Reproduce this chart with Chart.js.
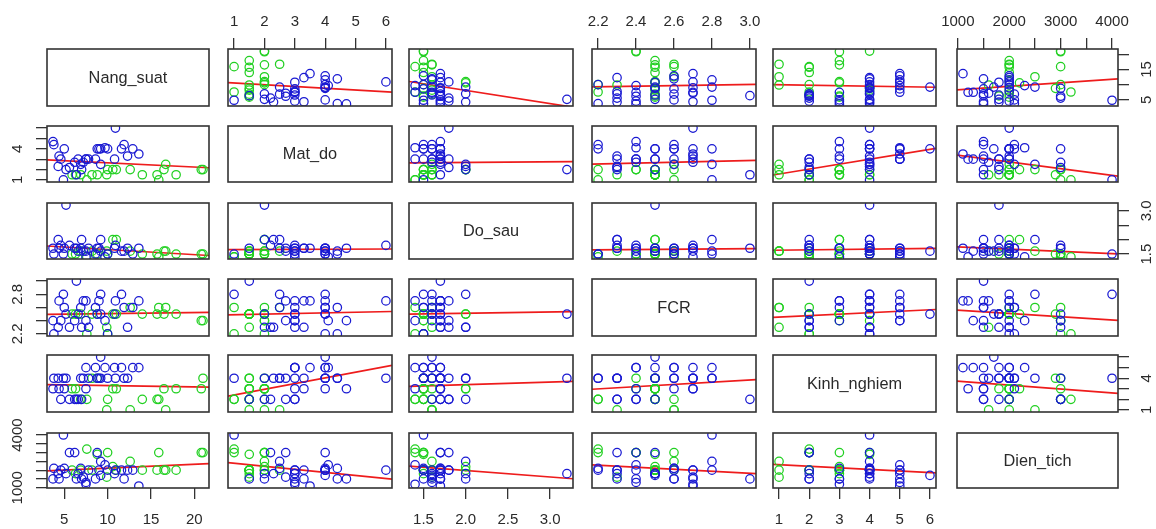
<!DOCTYPE html>
<html><head><meta charset="utf-8">
<script src="https://cdn.jsdelivr.net/npm/chart.js@4.4.1/dist/chart.umd.min.js"></script>
<style>
html,body{margin:0;padding:0;background:#fff;width:1156px;height:529px;overflow:hidden;position:relative}
canvas{position:absolute}
</style></head><body>
<script>
// ---------------- DATA ----------------
const varNames = ['Nang_suat','Mat_do','Do_sau','FCR','Kinh_nghiem','Dien_tich'];
// nhom: 1 = green group, 2 = blue group
const nhom = [1,1,1,1,1,1,1,1,1,1,1,1,1,1,1,1,1,1,1,
              2,2,2,2,2,2,2,2,2,2,2,2,2,2,2,2,2,2,2,2,2,2,2,2,2,2,2,2,2,2,2,2];
const nangSuat = [21.0,20.8,17.9,16.7,16.5,15.9,15.7,14.0,12.6,11.0,10.6,10.0,9.9,8.8,8.2,7.6,6.9,6.3,5.9,
  9.2,13.6,12.9,11.6,10.8,9.7,8.6,7.5,3.8,4.3,4.9,5.2,6.9,7.2,7.8,8.8,9.0,9.2,10.0,10.9,11.9,12.3,3.7,4.4,5.0,7.5,4.6,5.6,6.2,6.4,6.6,7.0];
const matDo = [2,2,1.5,2.5,2,1,1.5,1.5,2,2,2,2,1.5,1.5,1.5,1,1.5,1.5,1.5,
  4,3.5,4,4,3,4.1,3,3,4.4,2.3,1,2,2.5,2.7,3,4,4,2.5,4,6,4.4,3.3,4.7,3.3,4,3,3,2.2,2.7,1.5,3,2];
const doSau = [1.5,1.5,1.5,1.6,1.6,1.4,1.5,1.5,1.6,2.0,2.0,1.5,1.6,1.5,1.6,1.4,1.6,1.5,1.5,
  1.6,1.7,1.5,1.6,1.7,1.4,1.5,1.6,1.5,2.0,1.5,3.2,1.7,1.6,1.7,1.7,1.7,2.0,1.5,1.8,1.6,1.7,1.7,1.7,1.7,1.4,1.8,1.8,1.7,1.7,1.6,2.0];
const fcr = [2.4,2.4,2.5,2.6,2.5,2.6,2.5,2.5,2.6,2.5,2.5,2.2,2.3,2.5,2.5,2.2,2.5,2.5,2.5,
  2.5,2.7,2.6,2.8,2.5,2.4,2.6,2.4,2.2,2.3,2.8,2.5,2.6,2.7,2.3,2.5,2.7,2.8,2.2,2.7,2.6,2.3,2.4,2.7,2.6,2.7,2.4,2.3,2.4,3.0,2.5,2.3];
const kinhNghiem = [4,3,3,1,3,2,2,2,1,3,3,2,1,4,4,2,2,3,3,
  6,5,5,5,5,5,5,5,4,4,4,4,4,4,4,4,4,4,4,4,4,4,3,3,3,3,2,2,2,2,2,2];
const dienTich = [3000,3000,2000,2000,2000,3000,2000,2000,2500,2000,2200,3000,1600,2900,2000,3200,2000,1800,2000,
  1700,1100,2000,2000,1800,2300,1500,1300,2100,1800,4000,1800,2100,1600,2000,3000,2000,2500,2000,2000,1500,2000,1500,1500,2100,1200,2000,3000,3000,1500,1800,1500];

// tick values and tick labels (horizontal axes / vertical axes)
const tickNangSuat = [5,10,15,20];
const labHNangSuat = ['5','10','15','20'];
const labVNangSuat = ['5','','15',''];
const tickMatDo = [1,2,3,4,5,6];
const labHMatDo = ['1','2','3','4','5','6'];
const labVMatDo = ['1','','','4','',''];
const tickDoSau = [1.5,2.0,2.5,3.0];
const labHDoSau = ['1.5','2.0','2.5','3.0'];
const labVDoSau = ['1.5','','','3.0'];
const tickFCR = [2.2,2.4,2.6,2.8,3.0];
const labHFCR = ['2.2','2.4','2.6','2.8','3.0'];
const labVFCR = ['2.2','','','2.8',''];
const tickKinhNghiem = [1,2,3,4,5,6];
const labHKinhNghiem = ['1','2','3','4','5','6'];
const labVKinhNghiem = ['1','','','4','',''];
const tickDienTich = [1000,1500,2000,2500,3000,3500,4000];
const labHDienTich = ['1000','','2000','','3000','','4000'];
const labVDienTich = ['1000','','','','','','4000'];

// ---------------- LAYOUT / STYLE ----------------
const cols = [nangSuat, matDo, doSau, fcr, kinhNghiem, dienTich];
const tickVals = [tickNangSuat, tickMatDo, tickDoSau, tickFCR, tickKinhNghiem, tickDienTich];
const tickLabH = [labHNangSuat, labHMatDo, labHDoSau, labHFCR, labHKinhNghiem, labHDienTich];
const tickLabV = [labVNangSuat, labVMatDo, labVDoSau, labVFCR, labVKinhNghiem, labVDienTich];

const colL = [47,228,409,592,773,957], colR = [209,392,573,756,936,1118];
const rowT = [49,126,203,279,355,433], rowB = [106,182,259,336,412,488];
const P = 46;
const FONT = '"Liberation Sans", Arial, sans-serif';
const TXT = '#2a2a2a', AX = '#333333';
const BLUE = '#1a1ad2', GREEN = '#22d022', RED = '#ee1c1c';
const TICKLEN = 11, LABDIST = 29;

const mctx = document.createElement('canvas').getContext('2d');
mctx.font = '15px ' + FONT;
const measure = t => mctx.measureText(t).width;

function range(v){ const mn=Math.min(...v), mx=Math.max(...v), d=(mx-mn)*0.04; return [mn-d, mx+d]; }
function zeroPad(s){ s.paddingLeft=0; s.paddingRight=0; s.paddingTop=0; s.paddingBottom=0; }

function xScale(c, show, pos){
  const [mn,mx] = range(cols[c]);
  return {
    type:'linear', min:mn, max:mx, bounds:'data', display:show, position:pos,
    afterBuildTicks: s => { s.ticks = tickVals[c].map(v=>({value:v})); },
    afterFit: s => { if(show) s.height = P; zeroPad(s); },
    ticks:{ autoSkip:false, minRotation:0, maxRotation:0, padding: pos==='top'?7:12,
      font:{family:FONT,size:15}, color:TXT, callback:(v,i)=>tickLabH[c][i] },
    grid:{ display:true, drawOnChartArea:false, drawTicks:true, tickLength:TICKLEN, color:AX, lineWidth:1.3 },
    border:{ display:false }
  };
}
function yScale(r, show, pos){
  const [mn,mx] = range(cols[r]);
  const widest = Math.max(...tickLabV[r].map(measure));
  return {
    type:'linear', min:mn, max:mx, bounds:'data', display:show, position:pos,
    afterBuildTicks: s => { s.ticks = tickVals[r].map(v=>({value:v})); },
    afterFit: s => { if(show) s.width = P; zeroPad(s); },
    ticks:{ autoSkip:false, minRotation:90, maxRotation:90, crossAlign:'center',
      padding: LABDIST - TICKLEN - widest/2,
      font:{family:FONT,size:15}, color:TXT, callback:(v,i)=>tickLabV[r][i] },
    grid:{ display:true, drawOnChartArea:false, drawTicks:true, tickLength:TICKLEN, color:AX, lineWidth:1.3 },
    border:{ display:false }
  };
}

function fitLine(xs, ys){
  const n=xs.length; let mx=0,my=0; for(let i=0;i<n;i++){mx+=xs[i];my+=ys[i];} mx/=n; my/=n;
  let sxy=0,sxx=0; for(let i=0;i<n;i++){sxy+=(xs[i]-mx)*(ys[i]-my); sxx+=(xs[i]-mx)**2;}
  const b=sxy/sxx, a=my-b*mx; return [a,b];
}

function boxPlugin(label){
  return { id:'box'+Math.random().toString(36).slice(2),
    afterDatasetsDraw(chart){
      const a=chart.chartArea, ctx=chart.ctx; ctx.save();
      ctx.strokeStyle=AX; ctx.lineWidth=1.6;
      ctx.strokeRect(a.left, a.top, a.right-a.left, a.bottom-a.top);
      if(label){ ctx.fillStyle=TXT; ctx.font='16.3px '+FONT; ctx.textAlign='center'; ctx.textBaseline='middle';
        ctx.fillText(label,(a.left+a.right)/2,(a.top+a.bottom)/2+1); }
      ctx.restore();
    }};
}

for(let r=0;r<6;r++){
  for(let c=0;c<6;c++){
    const W = colR[c]-colL[c], H = rowB[r]-rowT[r];
    const cv = document.createElement('canvas');
    cv.width = W+2*P; cv.height = H+2*P;
    cv.style.left = (colL[c]-P)+'px'; cv.style.top = (rowT[r]-P)+'px';
    document.body.appendChild(cv);
    const hasTop = (r===0 && c%2===1), hasBottom = (r===5 && c%2===0);
    const hasLeft = (c===0 && r%2===1), hasRight = (c===5 && r%2===0);
    let datasets = [];
    let label = null;
    if(r===c){
      label = varNames[r];
    } else {
      const xs = cols[c], ys = cols[r];
      const blue=[], green=[];
      for(let i=0;i<xs.length;i++){ (nhom[i]===2?blue:green).push({x:xs[i], y:ys[i]}); }
      const [a,b] = fitLine(xs, ys);
      const [x0,x1] = range(xs);
      const ptStyle = {type:'scatter', backgroundColor:'rgba(0,0,0,0)', pointRadius:4.2, pointBorderWidth:1.25,
        pointHoverRadius:4.2, showLine:false, clip:0};
      datasets = [
        Object.assign({data:blue, borderColor:BLUE, pointBorderColor:BLUE}, ptStyle),
        Object.assign({data:green, borderColor:GREEN, pointBorderColor:GREEN}, ptStyle),
        {type:'line', data:[{x:x0,y:a+b*x0},{x:x1,y:a+b*x1}], borderColor:RED, borderWidth:1.7,
         pointRadius:0, showLine:true, fill:false, tension:0, clip:0}
      ];
    }
    new Chart(cv, {
      type:'scatter',
      data:{datasets},
      options:{
        responsive:false, animation:false, events:[], devicePixelRatio:1,
        layout:{padding:{left:hasLeft?0:P, right:hasRight?0:P, top:hasTop?0:P, bottom:hasBottom?0:P}},
        plugins:{legend:{display:false}, tooltip:{enabled:false}, title:{display:false}},
        scales:{
          x: xScale(c, hasTop||hasBottom, hasTop?'top':'bottom'),
          y: yScale(r, hasLeft||hasRight, hasLeft?'left':'right')
        }
      },
      plugins:[boxPlugin(label)]
    });
  }
}
</script>
</body></html>
